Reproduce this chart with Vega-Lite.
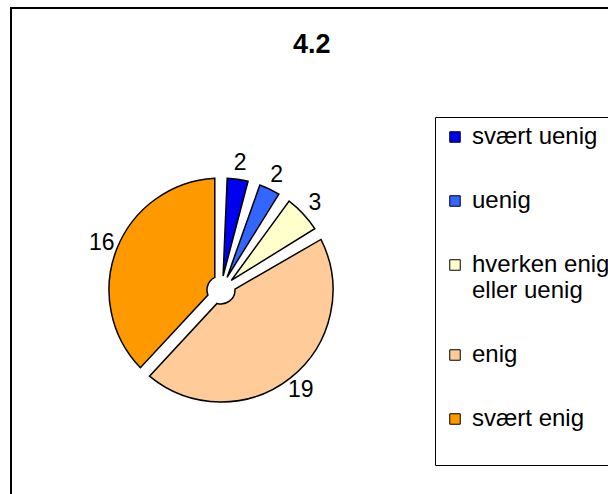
{
  "$schema": "https://vega.github.io/schema/vega-lite/v6.json",
  "autosize": {"type": "none"},
  "padding": {"left": 11, "top": 8, "right": 0, "bottom": 0},
  "width": 620,
  "height": 500,
  "background": "white",
  "view": {"stroke": "black", "strokeWidth": 2, "fill": "white"},
  "title": {
    "text": "4.2",
    "font": "Liberation Sans",
    "fontSize": 27,
    "fontWeight": "bold",
    "color": "black",
    "anchor": "start",
    "frame": "group",
    "dx": 282,
    "offset": -51
  },
  "data": {
    "values": [
      {"k": 1, "svar": "svært uenig", "antal": 2},
      {"k": 2, "svar": "uenig", "antal": 2},
      {"k": 3, "svar": "hverken enig eller uenig", "antal": 3},
      {"k": 4, "svar": "enig", "antal": 19},
      {"k": 5, "svar": "svært enig", "antal": 16}
    ]
  },
  "encoding": {
    "theta": {"field": "antal", "type": "quantitative", "stack": true},
    "order": {"field": "k", "type": "quantitative"}
  },
  "layer": [
    {
      "mark": {"type": "arc", "x": 210, "y": 282, "radius": 112, "radius2": 14, "padAngle": 0.11, "stroke": "black", "strokeWidth": 1.5},
      "encoding": {
        "color": {
          "field": "svar",
          "type": "nominal",
          "sort": ["svært uenig", "uenig", "hverken enig eller uenig", "enig", "svært enig"],
          "scale": {
            "domain": ["svært uenig", "uenig", "hverken enig eller uenig", "enig", "svært enig"],
            "range": ["#0000F0", "#3366FF", "#FFFFCC", "#FFCC99", "#FF9900"]
          },
          "legend": {
            "title": null,
            "orient": "none",
            "legendX": 424,
            "legendY": 109,
            "padding": 8,
            "strokeColor": "black",
            "fillColor": "white",
            "symbolType": "square",
            "symbolSize": 110,
            "symbolStrokeColor": "black",
            "symbolStrokeWidth": 1,
            "symbolOpacity": 1,
            "labelFont": "Liberation Sans",
            "labelFontSize": 24,
            "labelColor": "black",
            "labelOffset": 5,
            "labelLimit": 300,
            "rowPadding": 40,
            "labelExpr": "datum.label == 'hverken enig eller uenig' ? ['hverken enig', 'eller uenig'] : datum.label == 'svært enig' ? ['svært enig', ' '] : datum.label"
          }
        }
      }
    },
    {
      "mark": {"type": "text", "x": 210, "y": 282, "radius": 128, "font": "Liberation Sans", "fontSize": 23, "color": "black"},
      "encoding": {
        "text": {"field": "antal", "type": "quantitative"}
      }
    }
  ],
  "config": {
    "view": {"stroke": "black", "strokeWidth": 2}
  }
}
